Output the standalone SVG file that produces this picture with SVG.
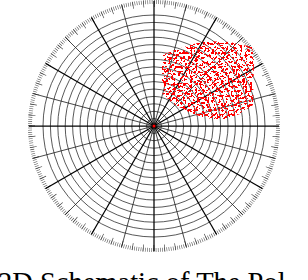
<svg xmlns="http://www.w3.org/2000/svg" width="308" height="280" viewBox="0 0 308 280">
<style>
.ring{fill:none;stroke:#222;stroke-width:0.75}
.thick{stroke:#000;stroke-width:1.25}
.thin{stroke:#1a1a1a;stroke-width:0.8}
.tick{fill:none;stroke:#444}
.caption{font-family:"Liberation Serif","Times New Roman",serif;font-size:28.5px;fill:#000}
</style>
<defs>
<filter id="speck" filterUnits="userSpaceOnUse" x="150" y="35" width="110" height="95" color-interpolation-filters="sRGB">
<feTurbulence type="fractalNoise" baseFrequency="0.42" numOctaves="2" seed="11" result="n"/>
<feColorMatrix in="n" type="matrix" values="0 0 0 0 1  0 0 0 0 0  0 0 0 0 0  1 0 0 0 0" result="m"/>
<feComponentTransfer in="m" result="t"><feFuncA type="discrete" tableValues="0 0 0 0 0 0 0 0 0 0 0 1 1 1 1 1 1 1 1 1"/></feComponentTransfer>
<feComposite in="t" in2="SourceGraphic" operator="in"/>
</filter>
</defs>
<rect width="308" height="280" fill="#fff"/>
<g id="ticks">
<circle class="tick" cx="154" cy="126" r="124" stroke-width="4" stroke-dasharray="0.55 1.6142" stroke-dashoffset="0.27"/>
<circle class="tick" cx="154" cy="126" r="122.5" stroke-width="7" stroke-dasharray="0.65 10.0405" stroke-dashoffset="0.32"/>
</g>
<g id="rings" class="ring">
<circle cx="154" cy="126" r="7.4"/><circle cx="154" cy="126" r="14.8"/><circle cx="154" cy="126" r="22.2"/>
<circle cx="154" cy="126" r="29.6"/><circle cx="154" cy="126" r="37"/><circle cx="154" cy="126" r="44.4"/>
<circle cx="154" cy="126" r="51.8"/><circle cx="154" cy="126" r="59.2"/><circle cx="154" cy="126" r="66.6"/>
<circle cx="154" cy="126" r="74"/><circle cx="154" cy="126" r="81.4"/><circle cx="154" cy="126" r="88.8"/>
<circle cx="154" cy="126" r="96.2"/><circle cx="154" cy="126" r="103.6"/><circle cx="154" cy="126" r="111"/>
</g>
<g id="radials">
<line class="thin" x1="274.74" y1="93.65" x2="33.26" y2="158.35"/>
<line class="thin" x1="242.39" y1="37.61" x2="65.61" y2="214.39"/>
<line class="thin" x1="186.35" y1="5.26" x2="121.65" y2="246.74"/>
<line class="thin" x1="121.65" y1="5.26" x2="186.35" y2="246.74"/>
<line class="thin" x1="65.61" y1="37.61" x2="242.39" y2="214.39"/>
<line class="thin" x1="33.26" y1="93.65" x2="274.74" y2="158.35"/>
<line class="thick" x1="29" y1="126" x2="279" y2="126"/>
<line class="thick" x1="154" y1="1" x2="154" y2="251"/>
<line class="thick" x1="262.25" y1="63.5" x2="45.75" y2="188.5"/>
<line class="thick" x1="216.5" y1="17.75" x2="91.5" y2="234.25"/>
<line class="thick" x1="91.5" y1="17.75" x2="216.5" y2="234.25"/>
<line class="thick" x1="45.75" y1="63.5" x2="262.25" y2="188.5"/>
</g>
<g id="points">
<polygon points="162,55 175,50 190,45 205,41 230,42 252,47 254,60 253,105 240,114 222,120 205,118 188,112 172,103 162,93" fill="#f00" filter="url(#speck)"/>
<circle cx="154" cy="126" r="1.5" fill="#f00"/>
</g>
<text class="caption" x="-2" y="291.5">2D Schematic of The Pol</text>
</svg>
